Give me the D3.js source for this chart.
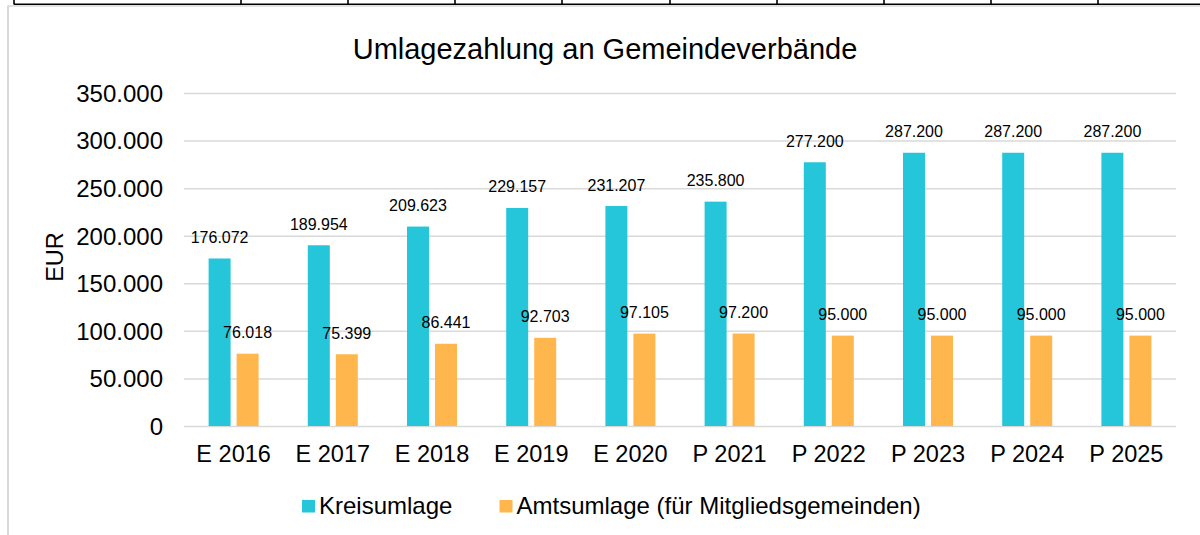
<!DOCTYPE html>
<html>
<head>
<meta charset="utf-8">
<script src="https://cdn.jsdelivr.net/npm/d3@7"></script>
<style>
  html, body { margin: 0; padding: 0; background: #fff; }
  svg { display: block; }
  text { font-family: "Liberation Sans", Arial, Helvetica, sans-serif; fill: #000; }
</style>
</head>
<body>
<svg id="chart" width="1200" height="535"></svg>
<script>
const categories = ["E 2016", "E 2017", "E 2018", "E 2019", "E 2020", "P 2021", "P 2022", "P 2023", "P 2024", "P 2025"];
const seriesNames = ["Kreisumlage", "Amtsumlage (für Mitgliedsgemeinden)"];
const kreisumlage = [176072, 189954, 209623, 229157, 231207, 235800, 277200, 287200, 287200, 287200];
const amtsumlage = [76018, 75399, 86441, 92703, 97105, 97200, 95000, 95000, 95000, 95000];
const yTicks = [0, 50000, 100000, 150000, 200000, 250000, 300000, 350000];
const colors = ["#26C6DA", "#FFB74D"];
const title = "Umlagezahlung an Gemeindeverbände";
const yTitle = "EUR";
const tableColumns = [14, 241, 348, 455, 562, 670, 777, 884, 991, 1098];

const de = d3.formatLocale({ decimal: ",", thousands: ".", grouping: [3], currency: ["", " €"] });
const fmt = de.format(",d");

const svg = d3.select("#chart");
const W = 1200, H = 535;

// Page decorations: table border above, chart frame
svg.append("line").attr("x1", 14).attr("x2", W).attr("y1", 4.2).attr("y2", 4.2)
  .attr("stroke", "#000").attr("stroke-width", 1.6);
svg.selectAll("line.tcol").data(tableColumns).enter().append("line")
  .attr("class", "tcol")
  .attr("x1", d => d).attr("x2", d => d).attr("y1", 0).attr("y2", 4.5)
  .attr("stroke", "#000").attr("stroke-width", 1.6);
svg.append("line").attr("x1", 8).attr("x2", W).attr("y1", 6).attr("y2", 6)
  .attr("stroke", "#d9d9d9").attr("stroke-width", 1.5);
svg.append("line").attr("x1", 8).attr("x2", 8).attr("y1", 5.5).attr("y2", H)
  .attr("stroke", "#d9d9d9").attr("stroke-width", 2);

// Scales
const plotLeft = 184, plotRight = 1176, plotTop = 93, plotBottom = 426;
const x0 = d3.scaleBand().domain(categories).range([plotLeft, plotRight])
  .paddingInner(0.496).paddingOuter(0.248);
const x1 = d3.scaleBand().domain(seriesNames).range([0, x0.bandwidth()])
  .paddingInner(6 / 28).paddingOuter(0);
const y = d3.scaleLinear().domain([0, 350000]).range([plotBottom, plotTop]);

// Gridlines
const grid = d3.axisLeft(y).tickValues(yTicks).tickSize(-(plotRight - plotLeft)).tickFormat("");
const gGrid = svg.append("g").attr("transform", `translate(${plotLeft},0)`).call(grid);
gGrid.select(".domain").remove();
gGrid.selectAll(".tick line").attr("stroke", "#d9d9d9").attr("stroke-width", 1.5);

// Y axis labels
const yAxis = d3.axisLeft(y).tickValues(yTicks).tickSize(0).tickPadding(0)
  .tickFormat(d => fmt(d));
const gY = svg.append("g").attr("transform", "translate(163,0)").call(yAxis);
gY.select(".domain").remove();
gY.selectAll(".tick text").attr("font-size", 24).attr("fill", "#000")
  .attr("font-family", '"Liberation Sans", Arial, sans-serif').attr("dy", "0.35em");

// X axis labels
const xAxis = d3.axisBottom(x0).tickSize(0).tickPadding(0);
const gX = svg.append("g").attr("transform", `translate(0,${plotBottom})`).call(xAxis);
gX.select(".domain").remove();
gX.selectAll(".tick text").attr("font-size", 23.5).attr("fill", "#000")
  .attr("font-family", '"Liberation Sans", Arial, sans-serif')
  .attr("y", 36).attr("dy", 0);

// Bars
const rows = categories.map((c, i) => ({ cat: c, vals: [kreisumlage[i], amtsumlage[i]] }));
const groups = svg.selectAll("g.grp").data(rows).enter().append("g")
  .attr("class", "grp").attr("transform", d => `translate(${x0(d.cat)},0)`);
groups.selectAll("rect").data(d => d.vals.map((v, j) => ({ s: seriesNames[j], v, j })))
  .enter().append("rect")
  .attr("x", d => x1(d.s)).attr("width", x1.bandwidth())
  .attr("y", d => y(d.v)).attr("height", d => y(0) - y(d.v))
  .attr("fill", d => colors[d.j]);
groups.selectAll("text").data(d => d.vals.map((v, j) => ({ s: seriesNames[j], v, j })))
  .enter().append("text")
  .attr("x", d => x1(d.s) + x1.bandwidth() / 2)
  .attr("y", d => y(d.v) - 15.5)
  .attr("text-anchor", "middle").attr("font-size", 16)
  .text(d => fmt(d.v));

// Title
svg.append("text").attr("x", 605).attr("y", 59).attr("text-anchor", "middle")
  .attr("font-size", 29).text(title);

// Y title
svg.append("text").attr("transform", "translate(63,257) rotate(-90)")
  .attr("text-anchor", "middle").attr("font-size", 23.5).text(yTitle);

// Legend
const legendX = [302, 499.5];
const leg = svg.selectAll("g.leg").data(seriesNames).enter().append("g")
  .attr("class", "leg").attr("transform", (d, i) => `translate(${legendX[i]},500)`);
leg.append("rect").attr("width", 13).attr("height", 12.5).attr("fill", (d, i) => colors[i]);
leg.append("text").attr("x", 17).attr("y", 14).attr("font-size", 24).text(d => d);
</script>
</body>
</html>
